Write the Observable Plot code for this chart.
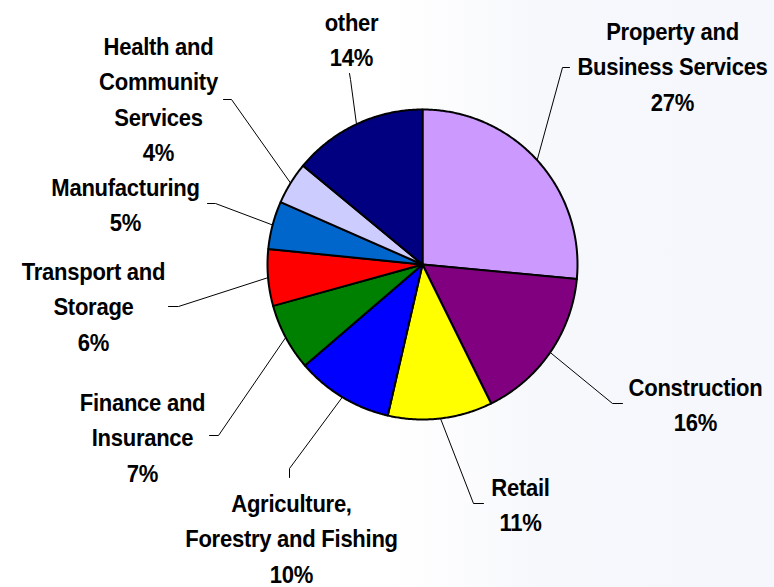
<!DOCTYPE html>
<html><head><meta charset="utf-8">
<script src="https://cdn.jsdelivr.net/npm/d3@7"></script>
<script src="https://cdn.jsdelivr.net/npm/@observablehq/plot@0.6"></script>
<style>
body{margin:0;background:#fff}
#chart svg{display:block}
#chart text{letter-spacing:-0.3px}
</style>
</head><body><div id="chart"></div>
<script>
// ---- data ----
const categories = ["Property and\nBusiness Services","Construction","Retail","Agriculture,\nForestry and Fishing","Finance and\nInsurance","Transport and\nStorage","Manufacturing","Health and\nCommunity\nServices","other"];
const shares = [26.5, 16.2, 10.9, 10.1, 7.0, 5.9, 5.0, 4.4, 14.0];
const colors = ["#CC99FF","#800080","#FFFF00","#0000FF","#008000","#FF0000","#0066CC","#CCCCFF","#000080"];

// ---- layout ----
const W = 774, H = 587;
const pie = {cx: 422, cy: 264, r: 155};
const labelLayout = [
  {x: 672, top: 22,  elbow: [562, 67],  end: [569, 67]},
  {x: 695, top: 378, elbow: [612, 403], end: [622, 403]},
  {x: 520, top: 478, elbow: [473, 503], end: [483, 503]},
  {x: 291, top: 494, elbow: [289, 468], end: [289, 477]},
  {x: 142, top: 393, elbow: [218, 435], end: [209, 435]},
  {x: 93,  top: 262, elbow: [178, 306], end: [168, 306]},
  {x: 125, top: 178, elbow: [215, 203], end: [207, 203]},
  {x: 158, top: 37,  elbow: [231, 99],  end: [223, 99]},
  {x: 351, top: 13,  elbow: [350, 79],  end: [349, 73]}
];
const lineGap = 35.5;
const textScaleX = 0.9;

const arcs = d3.pie().sort(null).value(d => d)(shares);
const pt = (a, r) => [pie.cx + r * Math.sin(a), pie.cy - r * Math.cos(a)];

const slices = arcs.flatMap((a, i) => {
  const n = Math.max(2, Math.ceil((a.endAngle - a.startAngle) / (Math.PI / 360)));
  const pts = [[pie.cx, pie.cy]];
  for (let k = 0; k <= n; k++) pts.push(pt(a.startAngle + (a.endAngle - a.startAngle) * k / n, pie.r));
  return pts.map(([x, y]) => ({name: categories[i], x, y}));
});

const leaders = arcs.flatMap((a, i) => {
  const mid = (a.startAngle + a.endAngle) / 2;
  const L = labelLayout[i];
  return [pt(mid, pie.r), L.elbow, L.end].map(([x, y]) => ({id: i, x, y}));
});

const textRows = categories.flatMap((c, i) => {
  const lines = c.split("\n").concat(Math.round(shares[i]) + "%");
  const L = labelLayout[i];
  return lines.map((t, j) => ({t, x: L.x, y: L.top + j * lineGap}));
});

const chart = Plot.plot({
  width: W, height: H, margin: 0,
  style: {background: "linear-gradient(to right, #ffffff 0%, #ffffff 50%, #f7f8fc 70%, #f6f7fc 100%)"},
  x: {domain: [0, W], range: [0, W], axis: null},
  y: {domain: [0, H], range: [0, H], axis: null},
  color: {domain: categories, range: colors},
  marks: [
    Plot.line(leaders, {x: "x", y: "y", z: "id", stroke: "#000", strokeWidth: 1}),
    Plot.line(slices, {x: "x", y: "y", z: "name", fill: "name", stroke: "#000", strokeWidth: 2, strokeLinejoin: "round", curve: "linear-closed"}),
    Plot.text(textRows, {x: "x", y: "y", text: "t", lineAnchor: "top", textAnchor: "middle", fontSize: 24.5, fontWeight: "bold", fontFamily: "'Liberation Sans', Arial, sans-serif", fill: "#000"})
  ]
});
// condense label glyphs horizontally (the reference uses a narrow bold face)
d3.select(chart).selectAll("g[aria-label=text] text").each(function () {
  const t = this.getAttribute("transform");
  if (t) {
    this.setAttribute("transform", t + ` scale(${textScaleX},1)`);
  } else {
    const x = +this.getAttribute("x") || 0, y = +this.getAttribute("y") || 0;
    this.removeAttribute("x"); this.removeAttribute("y");
    this.setAttribute("transform", `translate(${x},${y}) scale(${textScaleX},1)`);
  }
});
document.getElementById("chart").appendChild(chart);
</script>
</body></html>
